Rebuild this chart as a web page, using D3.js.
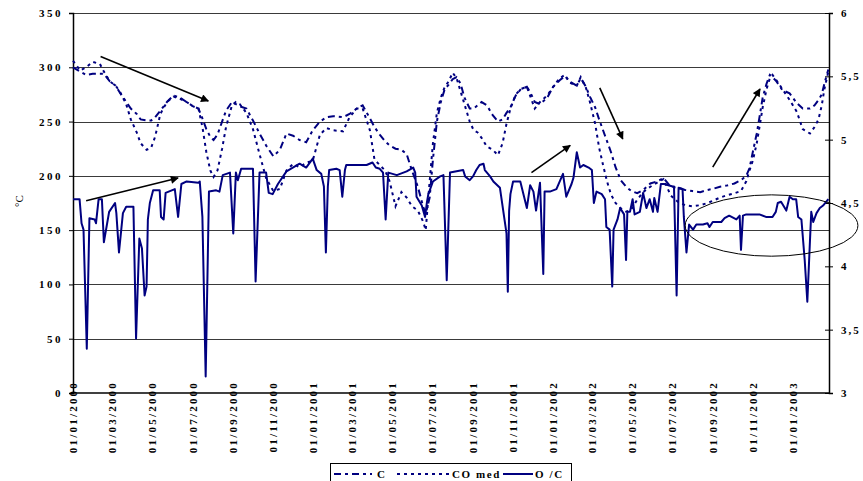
<!DOCTYPE html>
<html>
<head>
<meta charset="utf-8">
<script src="https://cdn.jsdelivr.net/npm/d3@7"></script>
<style>
  body { margin: 0; background: #fff; }
  svg text { font-family: "Liberation Serif", "Times New Roman", serif; font-weight: bold; font-size: 11px; fill: #000; }
</style>
</head>
<body>
<svg id="chart" width="863" height="481"></svg>
<script>
// ---- data -------------------------------------------------------------
const leftTicks = [0, 50, 100, 150, 200, 250, 300, 350];
const rightTicks = [3, 3.5, 4, 4.5, 5, 5.5, 6];
const rightTickLabels = ["3", "3,5", "4", "4,5", "5", "5,5", "6"];
const dateTicks = [
  "2000-01-01","2000-03-01","2000-05-01","2000-07-01","2000-09-01","2000-11-01",
  "2001-01-01","2001-03-01","2001-05-01","2001-07-01","2001-09-01","2001-11-01",
  "2002-01-01","2002-03-01","2002-05-01","2002-07-01","2002-09-01","2002-11-01",
  "2003-01-01"
];
const seriesNames = ["C", "CO med", "O/C"];

// temperature series (left axis, °C)
const tempDates = [
  "2000-01-01","2000-01-12","2000-01-21","2000-01-31","2000-02-11","2000-02-17","2000-02-26","2000-03-06",
  "2000-03-12","2000-03-22","2000-03-29","2000-04-07","2000-04-13","2000-04-22","2000-04-29","2000-05-05",
  "2000-05-13","2000-05-23","2000-06-02","2000-06-12","2000-06-22","2000-07-02","2000-07-10","2000-07-16",
  "2000-07-22","2000-07-28","2000-08-02","2000-08-08","2000-08-15","2000-08-21","2000-08-30","2000-09-05",
  "2000-09-11","2000-09-21","2000-10-01","2000-10-11","2000-10-21","2000-11-01","2000-11-11","2000-11-21",
  "2000-12-01","2000-12-11","2000-12-21","2000-12-31","2001-01-11","2001-01-21","2001-01-31","2001-02-15",
  "2001-02-25","2001-03-08","2001-03-17","2001-03-28","2001-04-04","2001-04-12","2001-04-20","2001-04-27",
  "2001-05-06","2001-05-15","2001-05-23","2001-05-31","2001-06-09","2001-06-17","2001-06-21","2001-06-27",
  "2001-07-02","2001-07-08","2001-07-14","2001-07-20","2001-07-26","2001-08-01","2001-08-07","2001-08-13",
  "2001-08-19","2001-08-27","2001-09-02","2001-09-08","2001-09-14","2001-09-22","2001-10-01","2001-10-09",
  "2001-10-16","2001-10-22","2001-10-28","2001-11-05","2001-11-13","2001-11-22","2001-11-28","2001-12-04",
  "2001-12-12","2001-12-23","2002-01-01","2002-01-11","2002-01-19","2002-01-26","2002-02-06","2002-02-12",
  "2002-02-20","2002-02-26","2002-03-06","2002-03-12","2002-03-18","2002-03-24","2002-03-30","2002-04-06",
  "2002-04-14","2002-04-22","2002-04-30","2002-05-09","2002-05-18","2002-05-29","2002-06-09","2002-06-18",
  "2002-06-29","2002-07-10","2002-07-21","2002-08-01","2002-08-13","2002-08-24","2002-09-01","2002-09-12",
  "2002-09-22","2002-10-04","2002-10-14","2002-10-22","2002-10-27","2002-11-01","2002-11-07","2002-11-12",
  "2002-11-16","2002-11-22","2002-11-27","2002-12-01","2002-12-07","2002-12-16","2002-12-27","2003-01-07",
  "2003-01-16","2003-01-27","2003-02-03","2003-02-09","2003-02-14","2003-02-18","2003-02-24"
];
const cValues = [
  300,296,293,294,294,294,287,283, 277,268,262,257,252,251,251,254,
  260,268,274,272,268,264,262,253, 243,236,233,238,250,260,268,266,
  264,262,251,239,228,218,224,239, 237,233,231,242,250,254,255,254,
  257,262,265,253,245,238,232,228, 225,224,220,205,190,172,165,180,
  215,250,268,280,284,289,291,285, 272,262,262,265,268,265,256,250,
  252,258,263,274,280,282,276,268, 266,272,282,288,292,287,283,290,
  282,273,263,252,242,232,222,208, 196,190,186,184,187,193,195,198,
  190,189,187,186,185,187,188,190, 191,193,196,200,207,222,239,257,
  272,285,293,291,287,279,276,267, 262,262,265,270,275,285,298
];
const coMedValues = [
  306,297,300,305,303,296,287,283, 278,266,252,240,230,224,226,236,
  257,268,273,271,268,264,262,245, 222,205,199,205,225,245,265,268,
  266,258,243,220,198,186,188,205, 211,208,212,214,238,244,242,241,
  254,262,262,242,215,210,205,195, 172,185,180,172,168,158,150,195,
  230,258,272,282,287,295,290,278, 266,250,242,240,235,227,224,219,
  230,248,262,275,280,282,272,262, 268,274,282,290,293,286,283,291,
  281,268,248,226,210,195,183,175, 170,167,169,178,185,190,194,197,
  182,176,173,172,173,175,177,180, 182,184,186,195,205,214,230,248,
  263,280,290,293,288,280,270,259, 243,239,245,252,265,280,296
];

// ratio series (right axis)
const ocSeries = [
  ["2000-01-01",4.53],["2000-01-11",4.53],["2000-01-14",4.34],["2000-01-17",4.29],["2000-01-22",3.35],
  ["2000-01-26",4.38],["2000-02-03",4.37],["2000-02-05",4.34],["2000-02-09",4.53],["2000-02-14",4.53],
  ["2000-02-17",4.19],["2000-02-25",4.43],["2000-03-05",4.50],["2000-03-07",4.42],["2000-03-11",4.11],
  ["2000-03-17",4.42],["2000-03-22",4.47],["2000-04-02",4.47],["2000-04-06",3.43],["2000-04-11",4.22],
  ["2000-04-15",4.14],["2000-04-19",3.77],["2000-04-22",3.84],["2000-04-24",4.37],["2000-04-27",4.50],
  ["2000-05-02",4.60],["2000-05-12",4.60],["2000-05-14",4.39],["2000-05-18",4.37],["2000-05-21",4.58],
  ["2000-06-04",4.61],["2000-06-09",4.39],["2000-06-14",4.65],["2000-06-22",4.67],["2000-07-10",4.66],
  ["2000-07-12",4.67],["2000-07-16",4.39],["2000-07-21",3.13],["2000-07-26",4.59],["2000-08-06",4.60],
  ["2000-08-11",4.59],["2000-08-16",4.72],["2000-08-27",4.74],["2000-09-01",4.26],["2000-09-05",4.74],
  ["2000-09-08",4.68],["2000-09-13",4.77],["2000-10-01",4.77],["2000-10-05",3.88],["2000-10-11",4.74],
  ["2000-10-21",4.74],["2000-10-25",4.58],["2000-10-31",4.57],["2000-11-08",4.65],["2000-11-21",4.75],
  ["2000-12-11",4.81],["2000-12-21",4.78],["2000-12-31",4.85],["2001-01-06",4.76],["2001-01-13",4.73],
  ["2001-01-17",4.63],["2001-01-20",4.11],["2001-01-23",4.63],["2001-01-25",4.76],["2001-02-05",4.77],
  ["2001-02-10",4.76],["2001-02-14",4.55],["2001-02-18",4.76],["2001-02-20",4.80],["2001-03-23",4.80],
  ["2001-04-01",4.82],["2001-04-06",4.78],["2001-04-12",4.77],["2001-04-17",4.74],["2001-04-21",4.37],
  ["2001-04-25",4.74],["2001-05-08",4.72],["2001-05-23",4.75],["2001-06-02",4.78],["2001-06-05",4.74],
  ["2001-06-07",4.55],["2001-06-15",4.48],["2001-06-20",4.39],["2001-06-23",4.51],["2001-06-25",4.57],
  ["2001-07-02",4.67],["2001-07-13",4.71],["2001-07-18",4.72],["2001-07-23",3.89],["2001-07-28",4.74],
  ["2001-08-17",4.76],["2001-08-20",4.71],["2001-08-27",4.68],["2001-09-01",4.71],["2001-09-06",4.76],
  ["2001-09-11",4.80],["2001-09-17",4.81],["2001-09-19",4.76],["2001-09-27",4.71],["2001-10-02",4.67],
  ["2001-10-12",4.62],["2001-10-17",4.44],["2001-10-22",4.26],["2001-10-24",3.80],["2001-10-26",4.44],
  ["2001-10-28",4.57],["2001-11-01",4.67],["2001-11-12",4.67],["2001-11-22",4.46],["2001-11-27",4.64],
  ["2001-12-02",4.59],["2001-12-06",4.44],["2001-12-12",4.66],["2001-12-17",3.94],["2001-12-19",4.59],
  ["2001-12-27",4.59],["2002-01-06",4.61],["2002-01-16",4.73],["2002-01-21",4.55],["2002-01-29",4.65],
  ["2002-02-01",4.70],["2002-02-06",4.90],["2002-02-11",4.78],["2002-02-16",4.80],["2002-02-24",4.78],
  ["2002-03-01",4.76],["2002-03-04",4.50],["2002-03-08",4.59],["2002-03-16",4.57],["2002-03-21",4.53],
  ["2002-03-23",4.31],["2002-03-28",4.29],["2002-04-01",3.84],["2002-04-03",4.29],["2002-04-09",4.37],
  ["2002-04-13",4.46],["2002-04-19",4.41],["2002-04-22",4.05],["2002-04-24",4.43],["2002-04-28",4.43],
  ["2002-05-02",4.53],["2002-05-05",4.41],["2002-05-13",4.43],["2002-05-18",4.58],["2002-05-23",4.46],
  ["2002-05-28",4.53],["2002-06-02",4.43],["2002-06-04",4.54],["2002-06-09",4.43],["2002-06-14",4.65],
  ["2002-06-19",4.65],["2002-07-02",4.63],["2002-07-04",4.63],["2002-07-08",3.77],["2002-07-11",4.62],
  ["2002-07-17",4.61],["2002-07-19",4.39],["2002-07-23",4.11],["2002-07-27",4.33],["2002-08-02",4.29],
  ["2002-08-07",4.33],["2002-08-17",4.33],["2002-08-24",4.34],["2002-08-27",4.31],["2002-09-01",4.35],
  ["2002-09-14",4.35],["2002-09-19",4.38],["2002-09-26",4.40],["2002-10-07",4.37],["2002-10-12",4.40],
  ["2002-10-14",4.13],["2002-10-17",4.40],["2002-10-22",4.41],["2002-11-11",4.41],["2002-11-21",4.39],
  ["2002-12-01",4.39],["2002-12-06",4.43],["2002-12-09",4.50],["2002-12-14",4.51],["2002-12-22",4.44],
  ["2002-12-27",4.55],["2003-01-01",4.53],["2003-01-06",4.53],["2003-01-09",4.39],["2003-01-14",4.37],
  ["2003-01-19",4.05],["2003-01-23",3.72],["2003-01-27",4.20],["2003-01-29",4.43],["2003-02-01",4.35],
  ["2003-02-06",4.42],["2003-02-11",4.46],["2003-02-16",4.48],["2003-02-24",4.53]
];

// hand-drawn annotations, in data units: [fromDate, from°C, toDate, to°C]
const arrows = [
  ["2000-02-12", 310, "2000-07-25", 269],
  ["2000-01-21", 177, "2000-06-09", 198],
  ["2001-11-29", 203, "2002-01-27", 228],
  ["2002-03-13", 281, "2002-04-17", 234],
  ["2002-09-01", 208, "2002-11-12", 280]
];
const highlight = { from: "2002-07-21", to: "2003-04-10", low: 126, high: 182.5 };

// ---- layout -----------------------------------------------------------
const plot = { left: 73, right: 829, top: 13, bottom: 393 };
const navy = "#000080";
const parse = d3.timeParse("%Y-%m-%d");
const fmt = d3.timeFormat("%d/%m/%Y");

const svg = d3.select("#chart");

const x = d3.scaleTime()
  .domain([parse("2000-01-01"), parse("2003-02-25")])
  .range([plot.left, plot.right]);
const yL = d3.scaleLinear().domain([0, 350]).range([plot.bottom, plot.top]);
const yR = d3.scaleLinear().domain([3, 6]).range([plot.bottom, plot.top]);

// gridlines
svg.append("g").selectAll("line").data(leftTicks.filter(v => v > 0)).join("line")
  .attr("x1", plot.left).attr("x2", plot.right)
  .attr("y1", d => Math.round(yL(d)) + 0.5).attr("y2", d => Math.round(yL(d)) + 0.5)
  .attr("stroke", "#3a3a3a").attr("stroke-width", 1);

// left axis
const gL = svg.append("g").attr("transform", `translate(${plot.left},0)`)
  .call(d3.axisLeft(yL).tickValues(leftTicks).tickSize(4).tickPadding(6).tickFormat(d3.format("d")));
gL.select(".domain").attr("stroke", "#000").attr("stroke-width", 1.5);
gL.selectAll(".tick line").attr("stroke", "#000");
gL.selectAll("text").attr("font-size", 11).attr("letter-spacing", "2.5px")
  .attr("font-family", null).style("font-family", "'Liberation Serif', serif").style("font-weight", "bold");

// right axis
const gR = svg.append("g").attr("transform", `translate(${plot.right},0)`)
  .call(d3.axisRight(yR).tickValues(rightTicks).tickSize(4).tickPadding(8)
    .tickFormat((d, i) => rightTickLabels[i]));
gR.select(".domain").attr("stroke", "#000").attr("stroke-width", 1.5);
gR.selectAll(".tick line").attr("stroke", "#000").attr("x1", -4);
gR.selectAll("text").attr("font-size", 11).attr("letter-spacing", "2px")
  .attr("font-family", null).style("font-family", "'Liberation Serif', serif").style("font-weight", "bold");

// bottom axis line
svg.append("line")
  .attr("x1", plot.left).attr("x2", plot.right)
  .attr("y1", plot.bottom).attr("y2", plot.bottom)
  .attr("stroke", "#000").attr("stroke-width", 1.5);

// date labels, rotated
svg.append("g").selectAll("text").data(dateTicks.map(parse)).join("text")
  .attr("transform", d => `translate(${x(d)},381) rotate(-90)`)
  .attr("text-anchor", "end")
  .attr("dy", "0.36em")
  .attr("letter-spacing", "2.2px")
  .text(d => fmt(d));

// y axis title
svg.append("text")
  .attr("transform", "translate(19,201) rotate(-90)")
  .attr("text-anchor", "middle")
  .attr("dy", "0.35em")
  .style("font-weight", "normal")
  .attr("font-size", 12)
  .text("°C");

// series
const tempLine = d3.line().x(d => x(d[0])).y(d => yL(d[1]));
const cData = tempDates.map((d, i) => [parse(d), cValues[i]]);
const coData = tempDates.map((d, i) => [parse(d), coMedValues[i]]);
const ocData = ocSeries.map(d => [parse(d[0]), d[1]]);

const styles = {
  "C": { dash: "7,4,3,4" },
  "CO med": { dash: "3,4" },
  "O/C": { dash: null }
};

svg.append("path").datum(cData)
  .attr("d", tempLine).attr("fill", "none")
  .attr("stroke", navy).attr("stroke-width", 2).attr("stroke-dasharray", styles["C"].dash);
svg.append("path").datum(coData)
  .attr("d", tempLine).attr("fill", "none")
  .attr("stroke", navy).attr("stroke-width", 2).attr("stroke-dasharray", styles["CO med"].dash);
svg.append("path").datum(ocData)
  .attr("d", d3.line().x(d => x(d[0])).y(d => yR(d[1])))
  .attr("fill", "none").attr("stroke", navy).attr("stroke-width", 2)
  .attr("stroke-linejoin", "round");

// annotations
svg.append("defs").append("marker")
  .attr("id", "head").attr("viewBox", "0 0 10 10")
  .attr("refX", 9).attr("refY", 5)
  .attr("markerWidth", 10).attr("markerHeight", 8)
  .attr("markerUnits", "userSpaceOnUse")
  .attr("orient", "auto")
  .append("path").attr("d", "M0,0 L10,5 L0,10 Z").attr("fill", "#000");

svg.append("g").selectAll("line").data(arrows).join("line")
  .attr("x1", d => x(parse(d[0]))).attr("y1", d => yL(d[1]))
  .attr("x2", d => x(parse(d[2]))).attr("y2", d => yL(d[3]))
  .attr("stroke", "#000").attr("stroke-width", 1.6)
  .attr("marker-end", "url(#head)");

const ex0 = x(parse(highlight.from)), ex1 = x(parse(highlight.to));
const ey0 = yL(highlight.high), ey1 = yL(highlight.low);
svg.append("ellipse")
  .attr("cx", (ex0 + ex1) / 2).attr("cy", (ey0 + ey1) / 2)
  .attr("rx", (ex1 - ex0) / 2).attr("ry", (ey1 - ey0) / 2)
  .attr("fill", "none").attr("stroke", "#000").attr("stroke-width", 1);

// legend
const legend = svg.append("g");
legend.append("rect")
  .attr("x", 330.5).attr("y", 463.5).attr("width", 241).attr("height", 30)
  .attr("fill", "#fff").attr("stroke", "#000");
const legendItems = [
  { name: "C", label: "C", x0: 334, x1: 372, tx: 377 },
  { name: "CO med", label: "CO med", x0: 397, x1: 449, tx: 452 },
  { name: "O/C", label: "O /C", x0: 503, x1: 533, tx: 535 }
];
legendItems.forEach(it => {
  legend.append("line")
    .attr("x1", it.x0).attr("x2", it.x1).attr("y1", 474).attr("y2", 474)
    .attr("stroke", navy).attr("stroke-width", 2)
    .attr("stroke-dasharray", styles[it.name].dash);
  legend.append("text")
    .attr("x", it.tx).attr("y", 474).attr("dy", "0.35em")
    .attr("letter-spacing", "1.6px")
    .text(it.label);
});
</script>
</body>
</html>
